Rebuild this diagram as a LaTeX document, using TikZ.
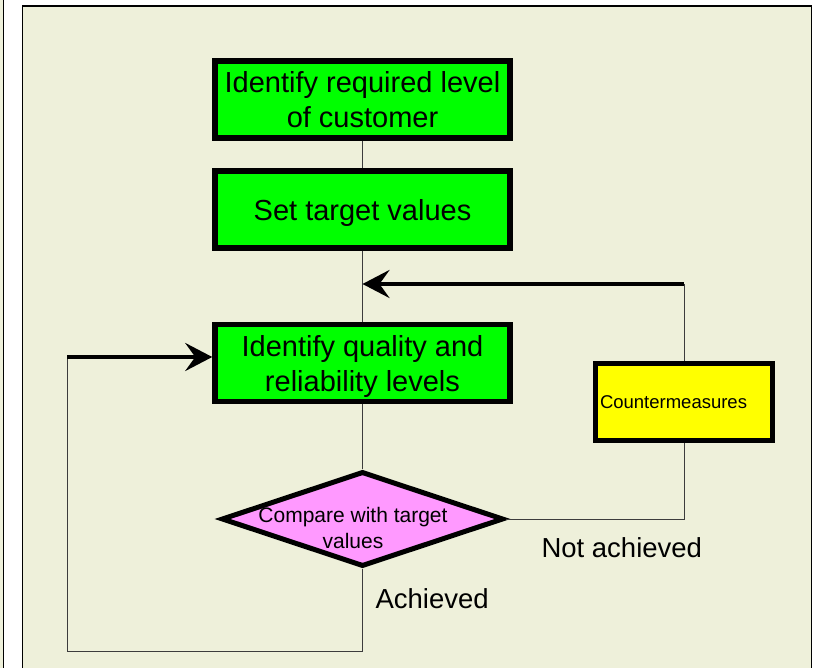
\documentclass[tikz,border=0pt]{standalone}
\usepackage{fontspec}
\setmainfont{Liberation Sans}
\usetikzlibrary{arrows.meta,shapes.geometric}
\definecolor{panelbg}{RGB}{238,240,218}
\definecolor{boxgreen}{RGB}{0,255,0}
\definecolor{boxyellow}{RGB}{255,255,0}
\definecolor{boxpink}{RGB}{255,153,255}
\definecolor{wirecol}{RGB}{60,60,60}
\begin{document}
\begin{tikzpicture}[x=1pt, y=-1pt, line join=miter,
		stepbox/.style={draw, line width=5.5pt, fill=boxgreen, minimum width=295pt, minimum height=77pt, text depth=0pt, align=center, font=\fontsize{29}{35}\selectfont},
		fixbox/.style={draw, line width=5.5pt, fill=boxyellow, minimum width=177pt, minimum height=77pt, text width=168pt, align=left, inner sep=2pt, font=\fontsize{18.5}{22}\selectfont},
		testbox/.style={draw, diamond, line width=5pt, fill=boxpink, minimum width=282pt, minimum height=95pt, inner sep=0pt},
		wire/.style={draw=wirecol, line width=1pt},
		back/.style={line width=4pt, -{Stealth[length=27pt, width=28pt, inset=10pt]}},
		lbl/.style={anchor=base west, font=\fontsize{27.5}{34}\selectfont}]
			\def\xl{67} \def\yb{651} % loop back corner
			\useasboundingbox (0,0) rectangle (820,668);
			\fill[white] (0,0) rectangle (820,668);
			\fill[panelbg] (0,0) rectangle (3.5,668);
			\draw[line width=1.2pt] (3.5,-2) -- (3.5,670);
			\filldraw[fill=panelbg, line width=1.5pt] (22.5,6) rectangle (811.5,680);
			\node[stepbox] (need) at (362.5,99.5) {Identify required level\\of customer};
			\node[stepbox] (target) at (362.5,209.5) {Set target values};
			\node[stepbox] (level) at (362.5,363) {Identify quality and\\reliability levels};
			\node[testbox] (cmp) at (362.5,519) {};
			\node[align=center, font=\fontsize{21}{26}\selectfont] (cmptxt) at (353,528) {Compare with target\\values};
			\node[fixbox] (fix) at (684,402) {Countermeasures};
			\node[lbl] (notok) at (538,557) {Not achieved};
			\node[lbl] (ok) at (372,608) {Achieved};
			\coordinate (join) at (362.5,284);
			\coordinate (fixtop) at (fix.north |- join);
			\coordinate (fixbot) at (fix.south |- cmp.east);
			\coordinate (ret) at (\xl,357);
			\coordinate (retlow) at (\xl,\yb);
			\coordinate (cmplow) at (cmp.south |- retlow);
			\draw[wire] (need) -- (target);
			\draw[wire] (target) -- (level);
			\draw[wire] (level) -- (cmp);
			\draw[wire] (cmp.east) -- (fixbot) -- (fix.south);
			\draw[wire] (fix.north) -- (fixtop);
			\draw[back] (fixtop) -- (join);
			\draw[wire] (cmp.south) -- (cmplow) -- (retlow) -- (ret);
			\draw[back] (ret) -- (level.west |- ret);
		\end{tikzpicture}
\end{document}
